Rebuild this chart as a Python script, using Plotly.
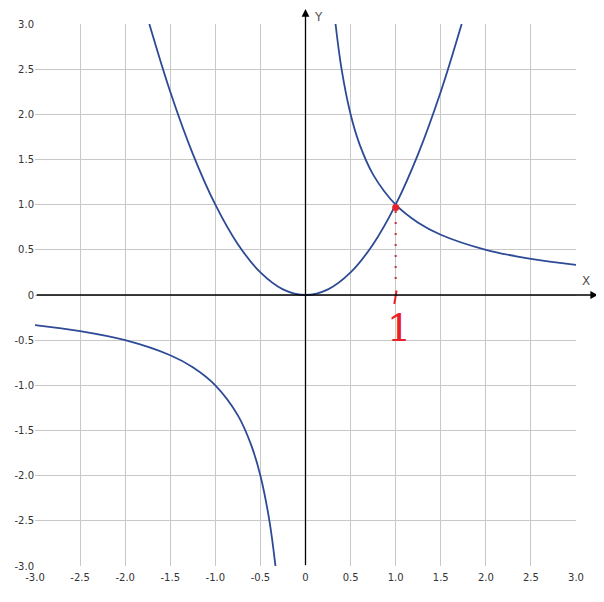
import plotly.graph_objects as go

# Data: y = x^2 and y = 1/x, sample points
parab_x = [-1.732, -1.5, -1.25, -1.0, -0.75, -0.5, -0.25, 0.0, 0.25, 0.5, 0.75, 1.0, 1.25, 1.5, 1.732]
parab_y = [3.0, 2.25, 1.5625, 1.0, 0.5625, 0.25, 0.0625, 0.0, 0.0625, 0.25, 0.5625, 1.0, 1.5625, 2.25, 3.0]

hyp_pos_x = [0.333, 0.4, 0.5, 0.6, 0.75, 1.0, 1.25, 1.5, 2.0, 2.5, 3.0]
hyp_pos_y = [3.0, 2.5, 2.0, 1.667, 1.333, 1.0, 0.8, 0.667, 0.5, 0.4, 0.333]

hyp_neg_x = [-3.0, -2.5, -2.0, -1.5, -1.25, -1.0, -0.75, -0.6, -0.5, -0.4, -0.333]
hyp_neg_y = [-0.333, -0.4, -0.5, -0.667, -0.8, -1.0, -1.333, -1.667, -2.0, -2.5, -3.0]

point_x = [1.0]
point_y = [0.97]
drop_x = [1.0, 1.0]
drop_y = [0.93, 0.1]

tick_vals = [-3.0, -2.5, -2.0, -1.5, -1.0, -0.5, 0.0, 0.5, 1.0, 1.5, 2.0, 2.5, 3.0]
tick_text = ["-3.0", "-2.5", "-2.0", "-1.5", "-1.0", "-0.5", "0", "0.5", "1.0", "1.5", "2.0", "2.5", "3.0"]

curve_color = "#2d4a96"
red = "#e8202a"

fig = go.Figure()
for xs, ys in [(parab_x, parab_y), (hyp_pos_x, hyp_pos_y), (hyp_neg_x, hyp_neg_y)]:
    fig.add_trace(go.Scatter(x=xs, y=ys, mode="lines",
                             line=dict(color=curve_color, width=1.8, shape="spline", smoothing=1.0),
                             hoverinfo="skip", showlegend=False))

fig.add_trace(go.Scatter(x=drop_x, y=drop_y, mode="lines",
                         line=dict(color="#c0303a", width=2, dash="2px,9px"),
                         showlegend=False, hoverinfo="skip"))
fig.add_trace(go.Scatter(x=point_x, y=point_y, mode="markers",
                         marker=dict(color=red, size=7),
                         showlegend=False, hoverinfo="skip"))

axis_common = dict(range=[-3, 3], tickvals=tick_vals, ticktext=tick_text,
                   showgrid=True, gridcolor="#c8c8c8", gridwidth=1,
                   zeroline=False, showline=False, ticks="",
                   tickfont=dict(family="DejaVu Sans", size=10, color="#333333"),
                   fixedrange=True)

# page body has an 8px margin, so the figure is 8px smaller and margins compensate
fig.update_layout(
    width=596, height=594,
    margin=dict(l=27, r=28, t=16, b=36, autoexpand=False),
    plot_bgcolor="white", paper_bgcolor="white",
    xaxis=dict(**axis_common, ticklabelstandoff=4),
    yaxis=dict(**axis_common),
    showlegend=False,
)

# axis arrows
fig.add_annotation(x=1.041, y=0, xref="paper", yref="y", text="",
                   showarrow=True, axref="pixel", ayref="pixel", ax=-563, ay=0,
                   arrowhead=2, arrowsize=1.2, arrowwidth=1.3, arrowcolor="black")
fig.add_annotation(x=0, y=1.038, xref="x", yref="paper", text="",
                   showarrow=True, axref="pixel", ayref="pixel", ax=0, ay=563,
                   arrowhead=2, arrowsize=1.2, arrowwidth=1.3, arrowcolor="black")
fig.add_annotation(x=1.03, y=0.15, xref="paper", yref="y", text="X", showarrow=False,
                   font=dict(family="DejaVu Sans", size=12, color="#555555"))
fig.add_annotation(x=0.14, y=1.03, xref="x", yref="paper", text="Y", showarrow=False,
                   font=dict(family="DejaVu Sans", size=12, color="#555555"))

# handwritten tick and label "1"
fig.add_shape(type="line", x0=0.985, y0=-0.1, x1=1.01, y1=0.05, xref="x", yref="y",
              line=dict(color=red, width=2))
fig.add_annotation(x=1.04, y=-0.36, xref="x", yref="y", text="1", showarrow=False,
                   font=dict(family="DejaVu Serif", size=38, color=red))

fig.write_html("out.html")
